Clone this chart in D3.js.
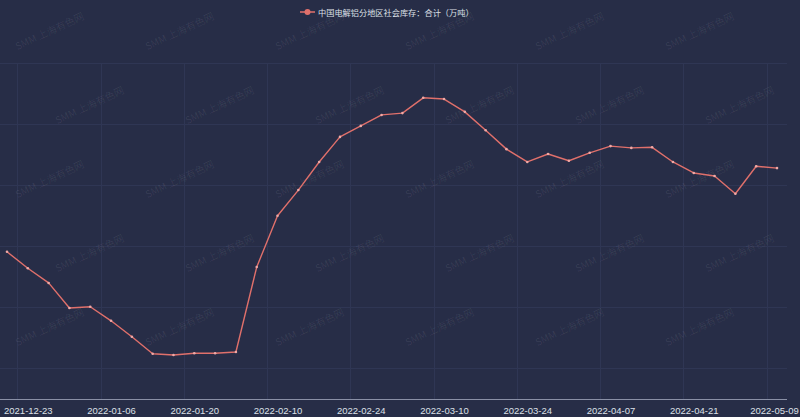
<!DOCTYPE html>
<html><head><meta charset="utf-8">
<script src="https://cdn.jsdelivr.net/npm/d3@7"></script>
<style>html,body{margin:0;padding:0;background:#272d47;}svg{display:block;}</style>
</head><body>
<svg id="c" width="800" height="417"></svg>
<script>
const dates = ["2021-12-20","2021-12-23","2021-12-27","2021-12-30","2022-01-04","2022-01-06","2022-01-10","2022-01-13","2022-01-17","2022-01-20","2022-01-24","2022-01-27","2022-02-07","2022-02-10","2022-02-14","2022-02-17","2022-02-21","2022-02-24","2022-02-28","2022-03-03","2022-03-07","2022-03-10","2022-03-14","2022-03-17","2022-03-21","2022-03-24","2022-03-28","2022-03-31","2022-04-06","2022-04-07","2022-04-11","2022-04-14","2022-04-18","2022-04-21","2022-04-25","2022-04-28","2022-05-05","2022-05-09"];
const inventory = [89.1,86.4,84.0,79.9,80.1,77.8,75.2,72.4,72.2,72.5,72.5,72.7,86.6,95.0,99.2,103.8,107.9,109.7,111.5,111.8,114.3,114.1,112.0,109.0,105.9,103.8,105.1,104.0,105.3,106.4,106.1,106.2,103.8,102.0,101.5,98.6,103.1,102.8];
const tickLabels = ["2021-12-23","2022-01-06","2022-01-20","2022-02-10","2022-02-24","2022-03-10","2022-03-24","2022-04-07","2022-04-21","2022-05-09"];
const yTicks = [70,80,90,100,110,120];
const seriesName = "中国电解铝分地区社会库存：合计（万吨）";
const watermark = "SMM 上海有色网";

const svg = d3.select("#c");
const W = 800, H = 417;
const plotTop = 63, plotBottom = 399;
const x = d3.scalePoint().domain(dates).range([7, 777]);
const y = d3.scaleLinear().domain([65, 120]).range([plotBottom, plotTop]);
const step = x.step();

svg.append("rect").attr("width", W).attr("height", H).attr("fill", "#272d47");

const g = svg.append("g");
g.selectAll("line.h").data(yTicks).join("line")
  .attr("x1", 0).attr("x2", 787)
  .attr("y1", d => Math.round(y(d)) + 0.5).attr("y2", d => Math.round(y(d)) + 0.5)
  .attr("stroke", "#2f3654").attr("stroke-width", 1);
g.selectAll("line.v").data(tickLabels).join("line")
  .attr("x1", d => Math.round(x(d) - step / 2) + 0.5).attr("x2", d => Math.round(x(d) - step / 2) + 0.5)
  .attr("y1", plotTop).attr("y2", plotBottom)
  .attr("stroke", "#2f3654").attr("stroke-width", 1);

const wm = svg.append("g");
const wx = d3.range(50, 720, 130), wy = d3.range(32, 390, 74);
wy.forEach((yy, j) => wx.forEach(xx => {
  wm.append("text").attr("transform", `translate(${xx + (j % 2 ? 40 : 0)},${yy}) rotate(-25)`)
    .attr("text-anchor", "middle").attr("dominant-baseline", "middle")
    .attr("font-family", "'Noto Sans CJK SC', sans-serif").attr("font-size", 10)
    .attr("fill", "rgba(255,255,255,0.08)").text(watermark);
}));

const axis = svg.append("g").attr("transform", `translate(0,${plotBottom})`)
  .call(d3.axisBottom(x).tickValues(tickLabels).tickSize(0).tickPadding(8));
axis.select(".domain").remove();
svg.append("line").attr("x1", 0).attr("x2", 787).attr("y1", plotBottom + 0.5).attr("y2", plotBottom + 0.5)
  .attr("stroke", "#8a90a6").attr("stroke-width", 1);
axis.selectAll("text").attr("fill", "#dde0e8").attr("font-size", 9.5)
  .attr("font-family", "'Liberation Sans', Arial, sans-serif")
  .attr("dx", (d, i) => i === tickLabels.length - 1 ? -3 : 0);

const color = "#e0706b";
const line = d3.line().x((d, i) => x(dates[i])).y(d => y(d));
svg.append("path").datum(inventory).attr("d", line)
  .attr("fill", "none").attr("stroke", color).attr("stroke-width", 1.4).attr("stroke-linejoin", "round");
svg.selectAll("circle.p").data(inventory).join("circle")
  .attr("cx", (d, i) => x(dates[i])).attr("cy", d => y(d)).attr("r", 1.3)
  .attr("fill", "#f0a9a6");

const lg = svg.append("g").attr("transform", "translate(300,12)");
lg.append("line").attr("x1", 0).attr("x2", 15).attr("y1", 0).attr("y2", 0).attr("stroke", color).attr("stroke-width", 1.5);
lg.append("circle").attr("cx", 7.5).attr("cy", 0).attr("r", 3).attr("fill", color);
lg.append("text").attr("x", 18).attr("y", 0).attr("dominant-baseline", "central")
  .attr("font-family", "'Noto Sans CJK SC', sans-serif").attr("font-size", 8.2)
  .attr("fill", "#dde0e8").text(seriesName);
</script>
</body></html>
